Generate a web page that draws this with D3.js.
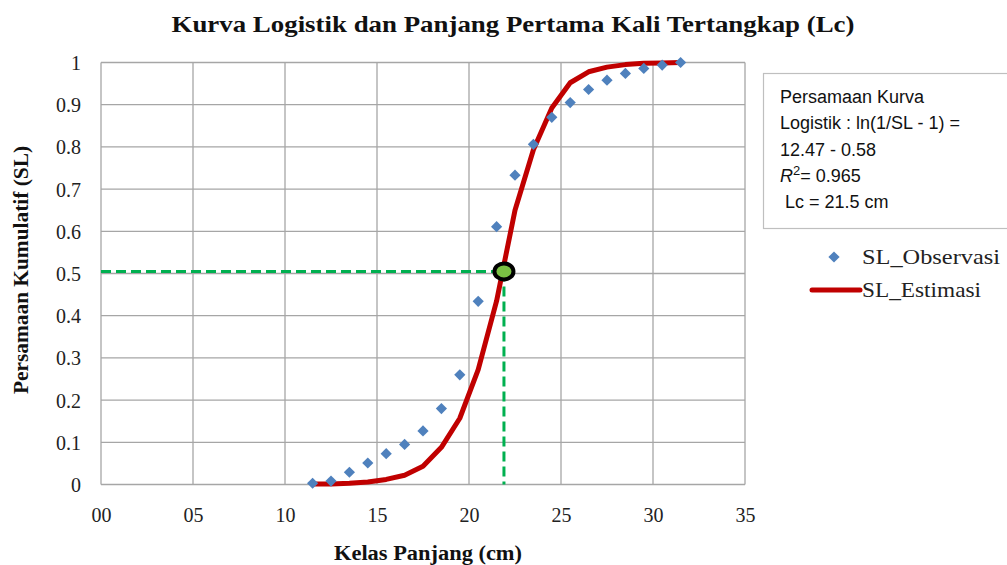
<!DOCTYPE html>
<html>
<head>
<meta charset="utf-8">
<script src="https://cdn.jsdelivr.net/npm/d3@7"></script>
<style>
  body { margin: 0; background: #fff; }
  svg { display: block; }
</style>
</head>
<body>
<div id="chart"></div>
<script>
// length classes (cm)
const lengths = [11.5, 12.5, 13.5, 14.5, 15.5, 16.5, 17.5, 18.5, 19.5, 20.5, 21.5,
                 22.5, 23.5, 24.5, 25.5, 26.5, 27.5, 28.5, 29.5, 30.5, 31.5];
// observed cumulative proportion
const slObservasi = [0.003, 0.008, 0.029, 0.051, 0.073, 0.095, 0.127, 0.18, 0.26, 0.434, 0.611,
                     0.733, 0.806, 0.87, 0.905, 0.936, 0.958, 0.974, 0.986, 0.994, 1.0];
// estimated logistic curve
const slEstimasi = [0.001, 0.001, 0.003, 0.006, 0.012, 0.022, 0.043, 0.088, 0.157, 0.272, 0.435,
                    0.65, 0.793, 0.892, 0.952, 0.978, 0.989, 0.995, 0.998, 0.999, 1.0];
const xTicks = [0, 5, 10, 15, 20, 25, 30, 35];
const yTicks = [0, 0.1, 0.2, 0.3, 0.4, 0.5, 0.6, 0.7, 0.8, 0.9, 1];
const lcPoint = { x: 21.9, y: 0.505 };
const noteLines = ['Persamaan Kurva', 'Logistik : ln(1/SL - 1) =', '12.47 - 0.58', 'R2', ' Lc = 21.5 cm'];

const width = 1007, height = 565;
const margin = { top: 62.5, right: 262, bottom: 80.5, left: 101 };
const serif = '"Liberation Serif", "Times New Roman", serif';

const svg = d3.select('#chart').append('svg')
  .attr('width', width)
  .attr('height', height);

const x = d3.scaleLinear().domain([0, 35]).range([margin.left, width - margin.right]);
const y = d3.scaleLinear().domain([0, 1]).range([height - margin.bottom, margin.top]);

// gridlines
svg.append('g')
  .selectAll('line.v')
  .data(xTicks)
  .enter().append('line')
  .attr('x1', d => x(d)).attr('x2', d => x(d))
  .attr('y1', y(0)).attr('y2', y(1))
  .attr('stroke', '#a6a6a6').attr('stroke-width', 1.3);

svg.append('g')
  .selectAll('line.h')
  .data(yTicks)
  .enter().append('line')
  .attr('x1', x(0)).attr('x2', x(35))
  .attr('y1', d => y(d)).attr('y2', d => y(d))
  .attr('stroke', '#a6a6a6').attr('stroke-width', 1.3);

// axes (labels only, lines are the grid)
const xAxis = svg.append('g')
  .attr('transform', `translate(0,${y(0)})`)
  .call(d3.axisBottom(x).tickValues(xTicks).tickSize(0).tickPadding(23)
    .tickFormat(d => d3.format('02d')(d)));
xAxis.select('.domain').remove();
xAxis.selectAll('text').style('font-family', serif).style('font-size', '20px').attr('fill', '#222');

const yAxis = svg.append('g')
  .attr('transform', `translate(${x(0)},0)`)
  .call(d3.axisLeft(y).tickValues(yTicks).tickSize(0).tickPadding(20)
    .tickFormat(d => d === 0 || d === 1 ? d : d3.format('.1f')(d)));
yAxis.select('.domain').remove();
yAxis.selectAll('text').style('font-family', serif).style('font-size', '20px').attr('fill', '#222')
  .attr('dy', '0.35em');

// green guide lines to Lc
svg.append('line')
  .attr('x1', x(0)).attr('x2', x(lcPoint.x))
  .attr('y1', y(lcPoint.y)).attr('y2', y(lcPoint.y))
  .attr('stroke', '#00b050').attr('stroke-width', 3).attr('stroke-dasharray', '10,5');
svg.append('line')
  .attr('x1', x(lcPoint.x)).attr('x2', x(lcPoint.x))
  .attr('y1', y(lcPoint.y)).attr('y2', y(0))
  .attr('stroke', '#00b050').attr('stroke-width', 3).attr('stroke-dasharray', '10,5');

// estimated curve
const line = d3.line()
  .x((d, i) => x(lengths[i]))
  .y(d => y(d));

svg.append('path')
  .datum(slEstimasi)
  .attr('d', line)
  .attr('fill', 'none')
  .attr('stroke', '#c00000')
  .attr('stroke-width', 5)
  .attr('stroke-linejoin', 'round');

// observed points
const diamond = d3.symbol().type(d3.symbolDiamond2).size(80);
svg.append('g')
  .selectAll('path')
  .data(slObservasi)
  .enter().append('path')
  .attr('d', diamond)
  .attr('transform', (d, i) => `translate(${x(lengths[i])},${y(d)})`)
  .attr('fill', '#4f81bd');

// Lc marker
svg.append('ellipse')
  .attr('cx', x(lcPoint.x)).attr('cy', y(lcPoint.y))
  .attr('rx', 9.5).attr('ry', 8)
  .attr('fill', '#7ac143')
  .attr('stroke', '#000').attr('stroke-width', 4);

// title
svg.append('text')
  .attr('x', 513).attr('y', 32)
  .attr('text-anchor', 'middle')
  .attr('textLength', 683)
  .attr('lengthAdjust', 'spacingAndGlyphs')
  .style('font-family', serif)
  .style('font-size', '24px')
  .style('font-weight', 'bold')
  .attr('fill', '#111')
  .text('Kurva Logistik dan Panjang Pertama Kali Tertangkap (Lc)');

// axis titles
svg.append('text')
  .attr('x', 428).attr('y', 560)
  .attr('text-anchor', 'middle')
  .attr('textLength', 188)
  .attr('lengthAdjust', 'spacingAndGlyphs')
  .style('font-family', serif).style('font-size', '20px').style('font-weight', 'bold')
  .attr('fill', '#111')
  .text('Kelas Panjang (cm)');

svg.append('text')
  .attr('transform', 'translate(28,270) rotate(-90)')
  .attr('text-anchor', 'middle')
  .attr('textLength', 248)
  .attr('lengthAdjust', 'spacingAndGlyphs')
  .style('font-family', serif).style('font-size', '20px').style('font-weight', 'bold')
  .attr('fill', '#111')
  .text('Persamaan Kumulatif (SL)');

// equation box
svg.append('rect')
  .attr('x', 763.5).attr('y', 73.5)
  .attr('width', 260).attr('height', 155)
  .attr('fill', '#fff')
  .attr('stroke', '#bfbfbf').attr('stroke-width', 1.2);

const note = svg.append('g')
  .style('font-family', '"Liberation Sans", Arial, sans-serif')
  .style('font-size', '18px')
  .attr('fill', '#111');

noteLines.forEach((t, i) => {
  const txt = note.append('text')
    .attr('x', 780).attr('y', 103 + i * 26.3);
  if (t === 'R2') {
    txt.append('tspan').style('font-style', 'italic').text('R');
    txt.append('tspan').attr('dy', -7).style('font-size', '13px').text('2');
    txt.append('tspan').attr('dy', 7).text('= 0.965');
  } else {
    txt.attr('xml:space', 'preserve').text(t);
  }
});

// legend
const legend = svg.append('g')
  .style('font-family', serif)
  .style('font-size', '21px')
  .attr('fill', '#222');

legend.append('path')
  .attr('d', diamond)
  .attr('transform', 'translate(834,257)')
  .attr('fill', '#4f81bd');
legend.append('text').attr('x', 862).attr('y', 264)
  .attr('textLength', 138).attr('lengthAdjust', 'spacingAndGlyphs')
  .text('SL_Observasi');

legend.append('line')
  .attr('x1', 812).attr('x2', 860)
  .attr('y1', 290).attr('y2', 290)
  .attr('stroke', '#c00000').attr('stroke-width', 5).attr('stroke-linecap', 'round');
legend.append('text').attr('x', 862).attr('y', 297)
  .attr('textLength', 119).attr('lengthAdjust', 'spacingAndGlyphs')
  .text('SL_Estimasi');
</script>
</body>
</html>
